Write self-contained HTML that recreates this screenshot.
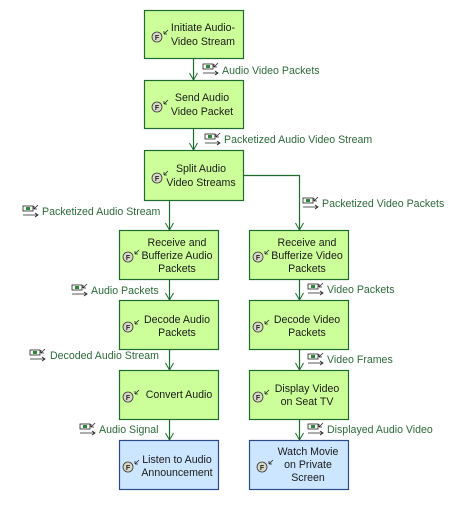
<!DOCTYPE html>
<html><head><meta charset="utf-8"><style>
html,body{margin:0;padding:0;background:#fff;}
svg text{font-family:"Liberation Sans",sans-serif;}
</style></head><body>
<svg width="465" height="500" viewBox="0 0 465 500" xmlns="http://www.w3.org/2000/svg">
<defs>
<g id="fi">
<circle cx="0" cy="0" r="5" fill="#d8d8c8" stroke="#333" stroke-width="0.8"/>
<text x="0" y="3" font-size="7" text-anchor="middle" fill="#222" font-weight="bold">F</text>
<path d="M7,-3 L11,-7 M7,-3 L7,-6 M7,-3 L10,-3" stroke="#222" stroke-width="0.8" fill="none"/>
</g>
<g id="pk">
<rect x="0" y="0" width="10" height="5" fill="#fff" stroke="#222" stroke-width="0.8"/>
<rect x="3" y="1" width="4" height="3" fill="#2a8a3a"/>
<path d="M11,3 L15,-1 M11,3 L11,0 M11,3 L14,3" stroke="#222" stroke-width="0.8" fill="none"/>
<path d="M0,9 L15,9 M12,7 L15,9 L12,11" stroke="#222" stroke-width="0.8" fill="none"/>
</g>
<marker id="ar" markerWidth="10" markerHeight="10" refX="9" refY="5" orient="auto" markerUnits="userSpaceOnUse">
<path d="M2,1 L9,5 L2,9" fill="none" stroke="#1e6b30" stroke-width="1"/>
</marker>
</defs>
<g stroke="#1e6b30" stroke-width="1.2" fill="none">
<line x1="193.5" y1="58" x2="193.5" y2="80" marker-end="url(#ar)"/>
<line x1="193.5" y1="128" x2="193.5" y2="150" marker-end="url(#ar)"/>
<line x1="169.5" y1="200" x2="169.5" y2="230" marker-end="url(#ar)"/>
<polyline points="243,175.5 299.5,175.5 299.5,230" marker-end="url(#ar)"/>
<line x1="169.5" y1="279" x2="169.5" y2="300" marker-end="url(#ar)"/>
<line x1="169.5" y1="349" x2="169.5" y2="370" marker-end="url(#ar)"/>
<line x1="169.5" y1="419" x2="169.5" y2="440" marker-end="url(#ar)"/>
<line x1="299.5" y1="279" x2="299.5" y2="300" marker-end="url(#ar)"/>
<line x1="299.5" y1="349" x2="299.5" y2="370" marker-end="url(#ar)"/>
<line x1="299.5" y1="419" x2="299.5" y2="440" marker-end="url(#ar)"/>
</g>
<g stroke="#1e6b30" stroke-width="1.2" fill="#ccff99">
<rect x="144.5" y="10.5" width="99" height="48"/>
<rect x="144.5" y="80.5" width="99" height="48"/>
<rect x="144.5" y="150.5" width="99" height="50"/>
<rect x="119.5" y="230.5" width="99" height="49"/>
<rect x="119.5" y="300.5" width="99" height="49"/>
<rect x="119.5" y="370.5" width="99" height="49"/>
<rect x="249.5" y="230.5" width="99" height="49"/>
<rect x="249.5" y="300.5" width="99" height="49"/>
<rect x="249.5" y="370.5" width="99" height="49"/>
</g>
<g stroke="#2a4a8a" stroke-width="1.2" fill="#cce6ff">
<rect x="119.5" y="440.5" width="99" height="49"/>
<rect x="249.5" y="440.5" width="99" height="49"/>
</g>
<use href="#fi" x="157" y="37"/>
<use href="#fi" x="157" y="107"/>
<use href="#fi" x="157" y="178"/>
<use href="#fi" x="128" y="257"/>
<use href="#fi" x="128" y="327"/>
<use href="#fi" x="128" y="397"/>
<use href="#fi" x="128" y="467"/>
<use href="#fi" x="258" y="257"/>
<use href="#fi" x="258" y="327"/>
<use href="#fi" x="258" y="397"/>
<use href="#fi" x="262" y="467"/>
<g font-size="10.6" fill="#1a1a1a" text-anchor="middle">
<text x="203" y="31">Initiate Audio-</text><text x="203" y="45">Video Stream</text>
<text x="202" y="101">Send Audio</text><text x="202" y="115">Video Packet</text>
<text x="201" y="172">Split Audio</text><text x="201" y="186">Video Streams</text>
<text x="177" y="246">Receive and</text><text x="177" y="259">Bufferize Audio</text><text x="177" y="272">Packets</text>
<text x="177" y="323">Decode Audio</text><text x="177" y="336">Packets</text>
<text x="179" y="398">Convert Audio</text>
<text x="177" y="463">Listen to Audio</text><text x="177" y="476">Announcement</text>
<text x="307" y="246">Receive and</text><text x="307" y="259">Bufferize Video</text><text x="307" y="272">Packets</text>
<text x="307" y="323">Decode Video</text><text x="307" y="336">Packets</text>
<text x="307" y="392">Display Video</text><text x="307" y="405">on Seat TV</text>
<text x="308" y="455">Watch Movie</text><text x="308" y="468">on Private</text><text x="308" y="481">Screen</text>
</g>
<use href="#pk" x="203" y="64"/>
<use href="#pk" x="205" y="134"/>
<use href="#pk" x="23" y="206"/>
<use href="#pk" x="303" y="198"/>
<use href="#pk" x="72" y="285"/>
<use href="#pk" x="308" y="284"/>
<use href="#pk" x="30" y="350"/>
<use href="#pk" x="308" y="354"/>
<use href="#pk" x="80" y="424"/>
<use href="#pk" x="308" y="424"/>
<g font-size="10.6" fill="#2d6a3a">
<text x="222" y="74">Audio Video Packets</text>
<text x="224" y="143">Packetized Audio Video Stream</text>
<text x="42" y="215">Packetized Audio Stream</text>
<text x="322" y="207">Packetized Video Packets</text>
<text x="91" y="294">Audio Packets</text>
<text x="327" y="293">Video Packets</text>
<text x="50" y="359">Decoded Audio Stream</text>
<text x="327" y="363">Video Frames</text>
<text x="99" y="433">Audio Signal</text>
<text x="327" y="433">Displayed Audio Video</text>
</g>
</svg>
</body></html>
